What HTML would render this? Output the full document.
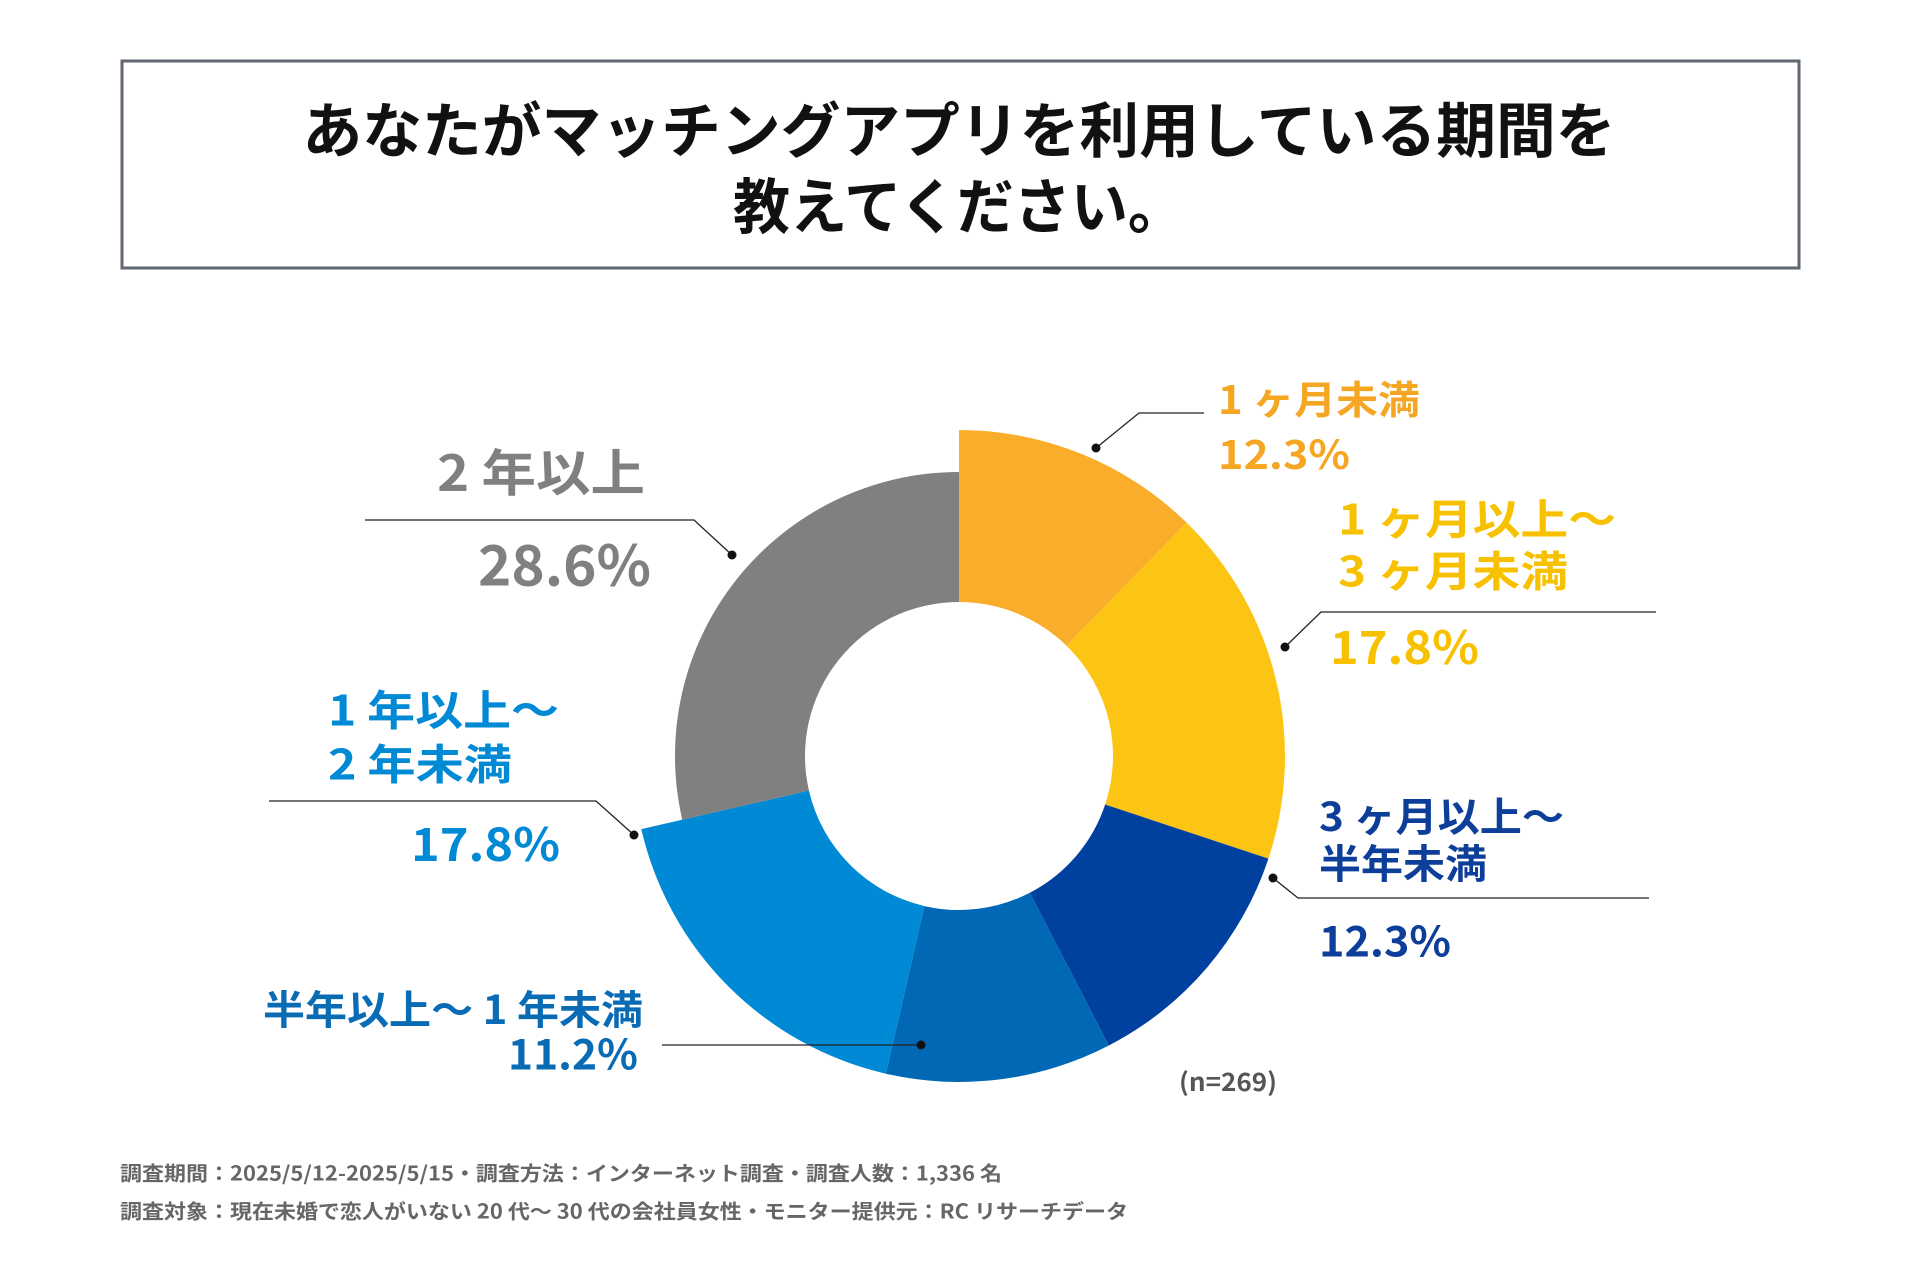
<!DOCTYPE html>
<html><head><meta charset="utf-8"><style>
html,body{margin:0;padding:0;background:#fff;}
svg text{font-family:"Noto Sans CJK JP","Liberation Sans",sans-serif;font-weight:bold;}
</style></head><body>
<svg id="chart" width="1920" height="1280" viewBox="0 0 1920 1280" xmlns="http://www.w3.org/2000/svg">
<rect x="122" y="61" width="1677" height="207" fill="#fff" stroke="#5f6770" stroke-width="3"/>
<text x="959" y="127" text-anchor="middle" dominant-baseline="central" font-size="60" textLength="1313" lengthAdjust="spacingAndGlyphs" fill="#111">あなたがマッチングアプリを利用している期間を</text>
<text x="959" y="203" text-anchor="middle" dominant-baseline="central" font-size="60" textLength="452" lengthAdjust="spacingAndGlyphs" fill="#111">教えてください。</text>
<g id="slices"></g>
<g id="labels"></g>
<text x="1179" y="1081" dominant-baseline="central" font-size="25" textLength="98" lengthAdjust="spacingAndGlyphs" fill="#555">(n=269)</text>
<text x="120" y="1172" dominant-baseline="central" font-size="20" textLength="882" lengthAdjust="spacingAndGlyphs" fill="#666">調査期間：2025/5/12-2025/5/15・調査方法：インターネット調査・調査人数：1,336 名</text>
<text x="120" y="1210" dominant-baseline="central" font-size="20" textLength="1008" lengthAdjust="spacingAndGlyphs" fill="#666">調査対象：現在未婚で恋人がいない 20 代〜 30 代の会社員女性・モニター提供元：RC リサーチデータ</text>
</svg>
<script>
const categories = ["1ヶ月未満","1ヶ月以上〜3ヶ月未満","3ヶ月以上〜半年未満","半年以上〜1年未満","1年以上〜2年未満","2年以上"];
const values = [12.3, 17.8, 12.3, 11.2, 17.8, 28.6];
const valueLabels = ["12.3%","17.8%","12.3%","11.2%","17.8%","28.6%"];

const colors = ["#F9AD2B","#FDC513","#0041A0","#0068B4","#0089D5","#808080"];
const textColors = ["#F5A623","#F8C100","#0D3F9A","#0A6BB5","#0089D5","#808080"];
const outerR = [326,326,326,326,326,284];
const cx=959, cy=756, innerR=154;
const NS="http://www.w3.org/2000/svg";
const total = values.reduce((a,b)=>a+b,0);
function angle(v){return v/total*2*Math.PI;}
function pt(r,a){return [cx+r*Math.sin(a), cy-r*Math.cos(a)];}
const sg=document.getElementById('slices');
let a0=0;
values.forEach((v,i)=>{
  const a1=a0+angle(v);
  const R=outerR[i];
  const [x0,y0]=pt(R,a0),[x1,y1]=pt(R,a1),[x2,y2]=pt(innerR,a1),[x3,y3]=pt(innerR,a0);
  const large=(a1-a0)>Math.PI?1:0;
  const p=document.createElementNS(NS,'path');
  p.setAttribute('d',`M${x0},${y0} A${R},${R} 0 ${large} 1 ${x1},${y1} L${x2},${y2} A${innerR},${innerR} 0 ${large} 0 ${x3},${y3} Z`);
  p.setAttribute('fill',colors[i]);
  
  
  sg.appendChild(p);
  a0=a1;
});
// [text, x, y, fontSize, anchor, width]
const layout=[
 {lines:[["1 ヶ月未満",1218,398,39,"start",202]],val:[1218,452,40,"start",132],lead:[[1096,448],[1139,413],[1204,413]]},
 {lines:[["1 ヶ月以上〜",1338,517,42,"start",278],["3 ヶ月未満",1338,569,42,"start",230]],val:[1330,645,46,"start",149],lead:[[1285,647],[1321,612],[1656,612]]},
 {lines:[["3 ヶ月以上〜",1319,814,40,"start",245],["半年未満",1319,861,40,"start",168]],val:[1319,939,42,"start",132],lead:[[1273,878],[1298,898],[1649,898]]},
 {lines:[["半年以上〜 1 年未満",643,1007,40,"end",380]],val:[638,1052,42,"end",130],lead:[[921,1045],[662,1045]]},
 {lines:[["1 年以上〜",328,708,42,"start",231],["2 年未満",328,762,42,"start",184]],val:[411,842,46,"start",149],lead:[[634,835],[596,801],[269,801]]},
 {lines:[["2 年以上",437,470,50,"start",208]],val:[478,562,56,"start",173],lead:[[732,555],[694,520],[365,520]]}
];
const lg=document.getElementById('labels');
layout.forEach((L,i)=>{
  L.lines.forEach((ln,j)=>{
    const t=document.createElementNS(NS,'text');
    t.setAttribute('x',ln[1]);t.setAttribute('y',ln[2]);t.setAttribute('font-size',ln[3]);
    t.setAttribute('text-anchor',ln[4]);t.setAttribute('dominant-baseline','central');
    t.setAttribute('textLength',ln[5]);t.setAttribute('lengthAdjust','spacingAndGlyphs');
    t.setAttribute('fill',textColors[i]);t.textContent=ln[0];
    
    
    lg.appendChild(t);
  });
  const v=document.createElementNS(NS,'text');
  v.setAttribute('x',L.val[0]);v.setAttribute('y',L.val[1]);v.setAttribute('font-size',L.val[2]);
  v.setAttribute('text-anchor',L.val[3]);v.setAttribute('dominant-baseline','central');
  v.setAttribute('textLength',L.val[4]);v.setAttribute('lengthAdjust','spacingAndGlyphs');
  v.setAttribute('fill',textColors[i]);v.textContent=valueLabels[i];
  
  
  lg.appendChild(v);
  const pl=document.createElementNS(NS,'polyline');
  pl.setAttribute('points',L.lead.map(p=>p.join(',')).join(' '));
  pl.setAttribute('fill','none');pl.setAttribute('stroke','#222');pl.setAttribute('stroke-width','1.3');
  
  
  lg.appendChild(pl);
  const d=document.createElementNS(NS,'circle');
  d.setAttribute('cx',L.lead[0][0]);d.setAttribute('cy',L.lead[0][1]);d.setAttribute('r',4.5);d.setAttribute('fill','#111');
  
  
  lg.appendChild(d);
});
</script>
</body></html>
